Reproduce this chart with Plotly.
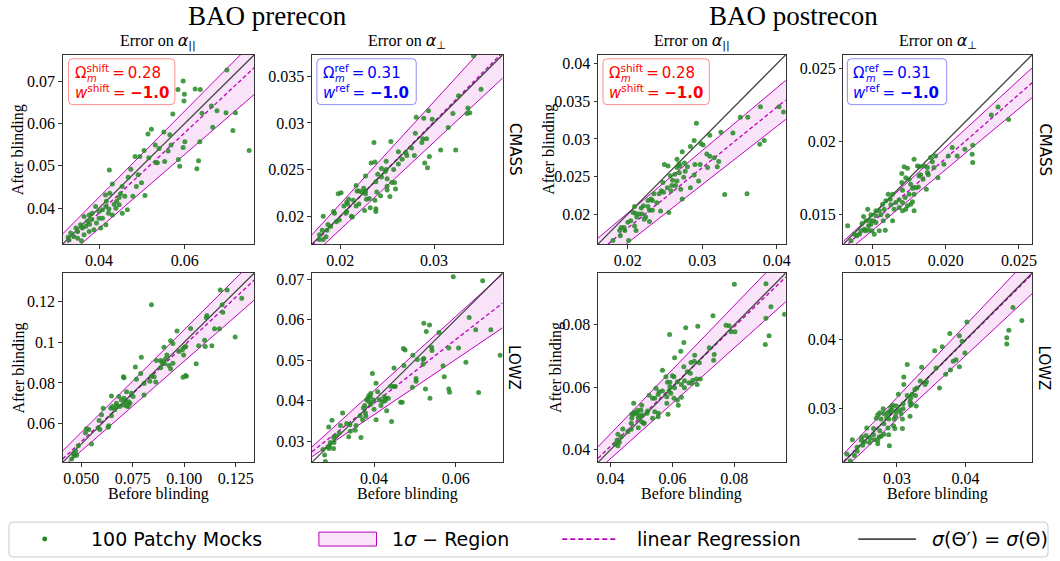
import plotly.graph_objects as go

W, H = 1060, 561

# ---------------------------------------------------------------------------
# Errors on alpha before / after blinding for 100 Patchy mocks (before, after)
# ---------------------------------------------------------------------------
pre_cmass_par = [
    (0.0698, 0.0726), (0.0596, 0.0700), (0.0599, 0.0669), (0.0598, 0.0653), (0.0584, 0.0680),
    (0.0624, 0.0681), (0.0636, 0.0680), (0.0662, 0.0641), (0.0675, 0.0630), (0.0640, 0.0624),
    (0.0572, 0.0622), (0.0696, 0.0625), (0.0718, 0.0625), (0.0712, 0.0583), (0.0665, 0.0591),
    (0.0750, 0.0536), (0.0522, 0.0586), (0.0514, 0.0575), (0.0551, 0.0580), (0.0565, 0.0573),
    (0.0568, 0.0549), (0.0531, 0.0549), (0.0561, 0.0535), (0.0516, 0.0519), (0.0536, 0.0507),
    (0.0553, 0.0510), (0.0532, 0.0508), (0.0588, 0.0499), (0.0596, 0.0543), (0.0585, 0.0515),
    (0.0632, 0.0512), (0.0628, 0.0493), (0.0635, 0.0557), (0.0484, 0.0522), (0.0505, 0.0536),
    (0.0424, 0.0490), (0.0474, 0.0492), (0.0491, 0.0479), (0.0499, 0.0460), (0.0507, 0.0430),
    (0.0468, 0.0473), (0.0479, 0.0428), (0.0431, 0.0457), (0.0450, 0.0434), (0.0460, 0.0428),
    (0.0441, 0.0416), (0.0425, 0.0435), (0.0415, 0.0431), (0.0447, 0.0408), (0.0439, 0.0400),
    (0.0423, 0.0398), (0.0408, 0.0396), (0.0416, 0.0404), (0.0392, 0.0404), (0.0400, 0.0392),
    (0.0384, 0.0388), (0.0377, 0.0384), (0.0365, 0.0380), (0.0373, 0.0369), (0.0357, 0.0361),
    (0.0361, 0.0353), (0.0350, 0.0345), (0.0341, 0.0333), (0.0330, 0.0325), (0.0328, 0.0331),
    (0.0350, 0.0329), (0.0377, 0.0345), (0.0388, 0.0349), (0.0404, 0.0353), (0.0416, 0.0361),
    (0.0369, 0.0357), (0.0359, 0.0323), (0.0400, 0.0376), (0.0431, 0.0384), (0.0454, 0.0388),
    (0.0466, 0.0396), (0.0383, 0.0373), (0.0346, 0.0353), (0.0408, 0.0376), (0.0422, 0.0388),
    (0.0394, 0.0365), (0.0378, 0.0362), (0.0365, 0.0337), (0.0334, 0.0341), (0.0435, 0.0409),
    (0.0417, 0.0416), (0.0447, 0.0425), (0.0454, 0.0451), (0.0487, 0.0451), (0.0495, 0.0522),
    (0.0540, 0.0541), (0.0600, 0.0557),
]

pre_cmass_perp = [
    (0.0342, 0.0372), (0.0350, 0.0336), (0.0336, 0.0316), (0.0326, 0.0329), (0.0320, 0.0310),
    (0.0315, 0.0295), (0.0323, 0.0271), (0.0307, 0.0271), (0.0335, 0.0310), (0.0338, 0.0311),
    (0.0294, 0.0313), (0.0298, 0.0304), (0.0289, 0.0305), (0.0281, 0.0306), (0.0280, 0.0289),
    (0.0288, 0.0283), (0.0292, 0.0283), (0.0287, 0.0279), (0.0295, 0.0264), (0.0290, 0.0257),
    (0.0293, 0.0252), (0.0279, 0.0265), (0.0276, 0.0273), (0.0270, 0.0268), (0.0271, 0.0265),
    (0.0266, 0.0261), (0.0262, 0.0269), (0.0254, 0.0280), (0.0262, 0.0256), (0.0257, 0.0250),
    (0.0249, 0.0259), (0.0249, 0.0250), (0.0248, 0.0248), (0.0244, 0.0251), (0.0236, 0.0279),
    (0.0237, 0.0258), (0.0233, 0.0257), (0.0240, 0.0245), (0.0244, 0.0242), (0.0250, 0.0240),
    (0.0255, 0.0236), (0.0258, 0.0236), (0.0250, 0.0232), (0.0250, 0.0228), (0.0253, 0.0221),
    (0.0259, 0.0229), (0.0238, 0.0237), (0.0239, 0.0226), (0.0243, 0.0222), (0.0237, 0.0217),
    (0.0231, 0.0219), (0.0227, 0.0224), (0.0227, 0.0227), (0.0223, 0.0226), (0.0225, 0.0230),
    (0.0227, 0.0243), (0.0217, 0.0233), (0.0218, 0.0227), (0.0220, 0.0227), (0.0228, 0.0218),
    (0.0232, 0.0209), (0.0238, 0.0205), (0.0238, 0.0208), (0.0226, 0.0206), (0.0220, 0.0213),
    (0.0214, 0.0217), (0.0217, 0.0211), (0.0209, 0.0218), (0.0208, 0.0213), (0.0207, 0.0215),
    (0.0212, 0.0200), (0.0213, 0.0199), (0.0207, 0.0205), (0.0206, 0.0203), (0.0201, 0.0225),
    (0.0198, 0.0224), (0.0204, 0.0211), (0.0194, 0.0203), (0.0193, 0.0205), (0.0196, 0.0194),
    (0.0199, 0.0196), (0.0190, 0.0189), (0.0187, 0.0191), (0.0186, 0.0185), (0.0182, 0.0200),
    (0.0181, 0.0185), (0.0182, 0.0175), (0.0178, 0.0180), (0.0178, 0.0175), (0.0185, 0.0178),
]

post_cmass_par = [
    (0.0409, 0.0336), (0.0403, 0.0343), (0.0378, 0.0343), (0.0361, 0.0329), (0.0351, 0.0329),
    (0.0377, 0.0293), (0.0383, 0.0298), (0.0341, 0.0308), (0.0325, 0.0309), (0.0310, 0.0305),
    (0.0292, 0.0321), (0.0298, 0.0294), (0.0301, 0.0292), (0.0284, 0.0290), (0.0273, 0.0283),
    (0.0306, 0.0280), (0.0310, 0.0277), (0.0316, 0.0275), (0.0322, 0.0270), (0.0320, 0.0263),
    (0.0307, 0.0262), (0.0297, 0.0266), (0.0290, 0.0266), (0.0295, 0.0244), (0.0284, 0.0235),
    (0.0273, 0.0220), (0.0330, 0.0226), (0.0360, 0.0227), (0.0276, 0.0268), (0.0280, 0.0263),
    (0.0277, 0.0257), (0.0270, 0.0264), (0.0269, 0.0255), (0.0266, 0.0262), (0.0275, 0.0249),
    (0.0289, 0.0252), (0.0254, 0.0264), (0.0257, 0.0251), (0.0263, 0.0253), (0.0266, 0.0244),
    (0.0260, 0.0245), (0.0259, 0.0238), (0.0264, 0.0238), (0.0271, 0.0233), (0.0253, 0.0235),
    (0.0258, 0.0231), (0.0247, 0.0242), (0.0245, 0.0231), (0.0248, 0.0229), (0.0242, 0.0227),
    (0.0235, 0.0227), (0.0231, 0.0220), (0.0233, 0.0218), (0.0227, 0.0218), (0.0239, 0.0215),
    (0.0244, 0.0204), (0.0255, 0.0202), (0.0227, 0.0210), (0.0221, 0.0211), (0.0218, 0.0208),
    (0.0229, 0.0205), (0.0233, 0.0205), (0.0219, 0.0200), (0.0209, 0.0210), (0.0215, 0.0200),
    (0.0210, 0.0201), (0.0207, 0.0202), (0.0222, 0.0193), (0.0224, 0.0196), (0.0229, 0.0190),
    (0.0212, 0.0196), (0.0204, 0.0191), (0.0200, 0.0189), (0.0195, 0.0182), (0.0191, 0.0182),
    (0.0189, 0.0178), (0.0196, 0.0178), (0.0190, 0.0171), (0.0211, 0.0178), (0.0209, 0.0184),
    (0.0180, 0.0165), (0.0201, 0.0165), (0.0249, 0.0266), (0.0266, 0.0273), (0.0269, 0.0267),
    (0.0289, 0.0298),
]

post_cmass_perp = [
    (0.02429, 0.02150), (0.02357, 0.02234), (0.02311, 0.02180), (0.02184, 0.01973), (0.02180, 0.01912),
    (0.02184, 0.01856), (0.02130, 0.01946), (0.02078, 0.01901), (0.02044, 0.01958), (0.02017, 0.01901),
    (0.01987, 0.01844), (0.01930, 0.01901), (0.01946, 0.01753), (0.01919, 0.01822), (0.01896, 0.01890),
    (0.01908, 0.01862), (0.01874, 0.01822), (0.01851, 0.01833), (0.01806, 0.01833), (0.01783, 0.01878),
    (0.01822, 0.01829), (0.01874, 0.01788), (0.01880, 0.01772), (0.01828, 0.01772), (0.01817, 0.01765),
    (0.01844, 0.01742), (0.01867, 0.01674), (0.01749, 0.01742), (0.01760, 0.01708), (0.01772, 0.01681),
    (0.01794, 0.01685), (0.01812, 0.01690), (0.01715, 0.01828), (0.01726, 0.01753), (0.01738, 0.01817),
    (0.01699, 0.01781), (0.01699, 0.01720), (0.01704, 0.01667), (0.01749, 0.01640), (0.01783, 0.01640),
    (0.01722, 0.01617), (0.01704, 0.01583), (0.01681, 0.01602), (0.01658, 0.01583), (0.01624, 0.01568),
    (0.01647, 0.01538), (0.01681, 0.01549), (0.01726, 0.01538), (0.01783, 0.01527), (0.01772, 0.01588),
    (0.01760, 0.01572), (0.01738, 0.01561), (0.01704, 0.01527), (0.01606, 0.01640), (0.01620, 0.01606),
    (0.01590, 0.01595), (0.01568, 0.01572), (0.01579, 0.01538), (0.01545, 0.01527), (0.01522, 0.01527),
    (0.01522, 0.01493), (0.01556, 0.01500), (0.01572, 0.01459), (0.01636, 0.01459), (0.01602, 0.01493),
    (0.01500, 0.01459), (0.01488, 0.01436), (0.01477, 0.01463), (0.01454, 0.01459), (0.01472, 0.01425),
    (0.01443, 0.01402), (0.01450, 0.01391), (0.01472, 0.01395), (0.01495, 0.01391), (0.01511, 0.01368),
    (0.01586, 0.01395), (0.01545, 0.01391), (0.01420, 0.01391), (0.01409, 0.01368), (0.01375, 0.01368),
    (0.01391, 0.01357), (0.01352, 0.01323), (0.01329, 0.01425), (0.01427, 0.01441), (0.01466, 0.01538),
    (0.01488, 0.01500), (0.01522, 0.01447), (0.01438, 0.01488), (0.01636, 0.01640),
]

pre_lowz_par = [
    (0.1208, 0.1257), (0.1175, 0.1257), (0.1110, 0.1131), (0.1107, 0.1120), (0.1187, 0.1147),
    (0.1279, 0.1216), (0.1184, 0.1184), (0.1171, 0.1066), (0.1147, 0.1066), (0.1134, 0.0983),
    (0.1102, 0.0979), (0.1099, 0.1010), (0.1070, 0.0983), (0.1247, 0.1026), (0.1058, 0.0894),
    (0.1031, 0.1068), (0.0965, 0.1055), (0.0934, 0.1007), (0.0945, 0.0994), (0.0902, 0.0975),
    (0.1002, 0.0975), (0.1007, 0.0979), (0.0991, 0.0963), (0.0975, 0.0954), (0.0997, 0.0937),
    (0.0916, 0.0937), (0.0908, 0.0918), (0.0945, 0.0897), (0.0926, 0.0886), (0.0886, 0.0875),
    (0.0905, 0.0894), (0.0865, 0.0910), (0.0892, 0.0902), (0.0934, 0.0870), (0.0994, 0.0828),
    (0.1010, 0.0833), (0.1007, 0.0837), (0.0841, 0.0833), (0.0862, 0.0805), (0.0854, 0.0830),
    (0.0833, 0.0808), (0.0792, 0.0926), (0.0763, 0.0878), (0.0789, 0.0846), (0.0768, 0.0818),
    (0.0841, 0.1184), (0.0708, 0.0825), (0.0705, 0.0830), (0.0805, 0.0797), (0.0805, 0.0741),
    (0.0744, 0.0749), (0.0720, 0.0757), (0.0683, 0.0733), (0.0647, 0.0736), (0.0671, 0.0700),
    (0.0695, 0.0716), (0.0708, 0.0725), (0.0715, 0.0708), (0.0704, 0.0692), (0.0720, 0.0687),
    (0.0731, 0.0708), (0.0737, 0.0700), (0.0728, 0.0684), (0.0687, 0.0684), (0.0671, 0.0687),
    (0.0652, 0.0684), (0.0644, 0.0676), (0.0607, 0.0676), (0.0599, 0.0644), (0.0587, 0.0616),
    (0.0583, 0.0579), (0.0591, 0.0571), (0.0634, 0.0590), (0.0631, 0.0583), (0.0550, 0.0500),
    (0.0526, 0.0575), (0.0537, 0.0571), (0.0521, 0.0555), (0.0486, 0.0491), (0.0473, 0.0466),
    (0.0462, 0.0454), (0.0466, 0.0442), (0.0478, 0.0445), (0.0454, 0.0426), (0.0647, 0.0639),
    (0.0663, 0.0668), (0.0752, 0.0733), (0.0886, 0.0910),
]

pre_lowz_perp = [
    (0.0594, 0.0706), (0.0666, 0.0696), (0.0633, 0.0605), (0.0649, 0.0575), (0.0686, 0.0575),
    (0.0709, 0.0512), (0.0607, 0.0530), (0.0625, 0.0495), (0.0656, 0.0420), (0.0583, 0.0530),
    (0.0569, 0.0486), (0.0572, 0.0459), (0.0583, 0.0429), (0.0585, 0.0421), (0.0559, 0.0568),
    (0.0522, 0.0591), (0.0536, 0.0587), (0.0528, 0.0571), (0.0541, 0.0532), (0.0542, 0.0524),
    (0.0520, 0.0490), (0.0537, 0.0406), (0.0526, 0.0429), (0.0503, 0.0455), (0.0503, 0.0448),
    (0.0494, 0.0433), (0.0495, 0.0512), (0.0506, 0.0502), (0.0520, 0.0502), (0.0522, 0.0504),
    (0.0472, 0.0529), (0.0476, 0.0525), (0.0473, 0.0487), (0.0469, 0.0396), (0.0465, 0.0396),
    (0.0449, 0.0481), (0.0452, 0.0435), (0.0448, 0.0435), (0.0443, 0.0349), (0.0431, 0.0375),
    (0.0429, 0.0405), (0.0435, 0.0406), (0.0425, 0.0410), (0.0427, 0.0400), (0.0417, 0.0388),
    (0.0421, 0.0398), (0.0413, 0.0402), (0.0405, 0.0443), (0.0405, 0.0353), (0.0396, 0.0467),
    (0.0399, 0.0402), (0.0400, 0.0379), (0.0392, 0.0392), (0.0391, 0.0409), (0.0384, 0.0404),
    (0.0387, 0.0412), (0.0382, 0.0402), (0.0388, 0.0398), (0.0377, 0.0388), (0.0374, 0.0382),
    (0.0379, 0.0370), (0.0380, 0.0362), (0.0366, 0.0363), (0.0372, 0.0353), (0.0368, 0.0309),
    (0.0356, 0.0339), (0.0354, 0.0327), (0.0341, 0.0341), (0.0342, 0.0325), (0.0338, 0.0311),
    (0.0333, 0.0344), (0.0323, 0.0370), (0.0318, 0.0339), (0.0315, 0.0321), (0.0306, 0.0313),
    (0.0301, 0.0309), (0.0297, 0.0352), (0.0289, 0.0335), (0.0302, 0.0297), (0.0301, 0.0282),
    (0.0293, 0.0297), (0.0291, 0.0289), (0.0290, 0.0282), (0.0287, 0.0286), (0.0279, 0.0266),
    (0.0281, 0.0250), (0.0275, 0.0280), (0.0392, 0.0418), (0.0409, 0.0422), (0.0441, 0.0436),
]

post_lowz_par = [
    (0.0800, 0.0930), (0.0902, 0.0932), (0.0731, 0.0829), (0.0773, 0.0799), (0.0783, 0.0797),
    (0.0802, 0.0778), (0.0789, 0.0778), (0.0902, 0.0821), (0.0918, 0.0858), (0.0962, 0.0834),
    (0.0912, 0.0765), (0.0900, 0.0737), (0.0682, 0.0796), (0.0643, 0.0791), (0.0591, 0.0769),
    (0.0637, 0.0744), (0.0627, 0.0716), (0.0607, 0.0695), (0.0719, 0.0727), (0.0735, 0.0705),
    (0.0733, 0.0687), (0.0672, 0.0703), (0.0671, 0.0684), (0.0687, 0.0679), (0.0660, 0.0680),
    (0.0637, 0.0666), (0.0648, 0.0650), (0.0658, 0.0645), (0.0605, 0.0634), (0.0568, 0.0655),
    (0.0579, 0.0634), (0.0600, 0.0637), (0.0584, 0.0616), (0.0592, 0.0616), (0.0616, 0.0618),
    (0.0629, 0.0609), (0.0639, 0.0599), (0.0653, 0.0615), (0.0666, 0.0623), (0.0678, 0.0627),
    (0.0690, 0.0627), (0.0680, 0.0609), (0.0662, 0.0613), (0.0639, 0.0621), (0.0592, 0.0602),
    (0.0589, 0.0588), (0.0607, 0.0599), (0.0595, 0.0581), (0.0605, 0.0565), (0.0616, 0.0559),
    (0.0619, 0.0543), (0.0629, 0.0568), (0.0568, 0.0588), (0.0557, 0.0586), (0.0547, 0.0597),
    (0.0554, 0.0577), (0.0543, 0.0565), (0.0536, 0.0565), (0.0525, 0.0575), (0.0582, 0.0570),
    (0.0582, 0.0549), (0.0586, 0.0514), (0.0555, 0.0517), (0.0554, 0.0506), (0.0536, 0.0501),
    (0.0543, 0.0522), (0.0520, 0.0524), (0.0518, 0.0517), (0.0504, 0.0511), (0.0501, 0.0543),
    (0.0499, 0.0527), (0.0488, 0.0527), (0.0477, 0.0520), (0.0485, 0.0517), (0.0493, 0.0511),
    (0.0490, 0.0503), (0.0501, 0.0490), (0.0507, 0.0485), (0.0509, 0.0485), (0.0490, 0.0471),
    (0.0475, 0.0514), (0.0469, 0.0514), (0.0469, 0.0501), (0.0467, 0.0485), (0.0456, 0.0458),
    (0.0467, 0.0466), (0.0440, 0.0467), (0.0424, 0.0450), (0.0435, 0.0442), (0.0421, 0.0431),
    (0.0429, 0.0424), (0.0415, 0.0418), (0.0424, 0.0413), (0.0475, 0.0549),
]

post_lowz_perp = [
    (0.0469, 0.0447), (0.0482, 0.0428), (0.0463, 0.0414), (0.0460, 0.0403), (0.0460, 0.0394),
    (0.0402, 0.0426), (0.0377, 0.0409), (0.0391, 0.0406), (0.0395, 0.0398), (0.0399, 0.0381),
    (0.0386, 0.0371), (0.0391, 0.0361), (0.0382, 0.0369), (0.0378, 0.0356), (0.0366, 0.0390),
    (0.0355, 0.0384), (0.0357, 0.0359), (0.0371, 0.0350), (0.0362, 0.0330), (0.0336, 0.0360),
    (0.0343, 0.0339), (0.0341, 0.0335), (0.0334, 0.0340), (0.0329, 0.0330), (0.0326, 0.0328),
    (0.0315, 0.0364), (0.0310, 0.0346), (0.0310, 0.0335), (0.0322, 0.0321), (0.0327, 0.0319),
    (0.0320, 0.0315), (0.0319, 0.0310), (0.0321, 0.0307), (0.0320, 0.0305), (0.0328, 0.0304),
    (0.0315, 0.0319), (0.0309, 0.0307), (0.0309, 0.0300), (0.0302, 0.0321), (0.0299, 0.0304),
    (0.0299, 0.0295), (0.0304, 0.0298), (0.0306, 0.0293), (0.0308, 0.0285), (0.0319, 0.0289),
    (0.0298, 0.0289), (0.0296, 0.0285), (0.0294, 0.0305), (0.0291, 0.0302), (0.0293, 0.0298),
    (0.0289, 0.0296), (0.0287, 0.0294), (0.0285, 0.0288), (0.0280, 0.0300), (0.0281, 0.0293),
    (0.0275, 0.0294), (0.0272, 0.0291), (0.0270, 0.0286), (0.0277, 0.0285), (0.0288, 0.0285),
    (0.0295, 0.0275), (0.0297, 0.0271), (0.0308, 0.0271), (0.0288, 0.0262), (0.0289, 0.0246),
    (0.0287, 0.0272), (0.0281, 0.0263), (0.0275, 0.0268), (0.0277, 0.0260), (0.0274, 0.0259),
    (0.0272, 0.0249), (0.0272, 0.0254), (0.0266, 0.0271), (0.0266, 0.0262), (0.0267, 0.0255),
    (0.0261, 0.0257), (0.0256, 0.0272), (0.0255, 0.0261), (0.0253, 0.0252), (0.0250, 0.0247),
    (0.0249, 0.0259), (0.0248, 0.0254), (0.0242, 0.0244), (0.0242, 0.0238), (0.0235, 0.0255),
    (0.0238, 0.0232), (0.0227, 0.0234), (0.0232, 0.0224), (0.0260, 0.0251), (0.0281, 0.0278),
]

# panel order: prerecon CMASS (par, perp), postrecon CMASS (par, perp),
#              prerecon LOWZ (par, perp),  postrecon LOWZ (par, perp)
mock_sets = [pre_cmass_par, pre_cmass_perp, post_cmass_par, post_cmass_perp,
             pre_lowz_par, pre_lowz_perp, post_lowz_par, post_lowz_perp]

# linear regression (slope, intercept) and its 1-sigma envelope
regression = [(0.9475, 0.00098), (1.0194, -0.00046), (0.804, 0.00207), (0.8725, 0.0014),
              (0.9465, 0.0038), (0.786, 0.00791), (0.958, 0.0028), (0.99, 0.00032)]
band_upper = [(1.02, 0.00177), (1.0997, -0.000695), (0.8333, 0.00347), (0.916, 0.00129),
              (1.01, 0.00519), (0.914, 0.00593), (1.028, 0.00399), (1.052, 0.00005)]
band_lower = [(0.875, 0.00019), (0.939, -0.00022), (0.775, 0.00068), (0.829, 0.00151),
              (0.883, 0.00241), (0.681, 0.00931), (0.888, 0.00163), (0.928, 0.00058)]

# common axis limits (same on x and y) per panel
axis_limits = [(0.0315, 0.0762), (0.0170, 0.0373), (0.0160, 0.0412), (0.0130, 0.0259),
               (0.0410, 0.1340), (0.0248, 0.0715), (0.0360, 0.0966), (0.0222, 0.0497)]

x_tick_labels = [["0.04", "0.06"], ["0.02", "0.03"], ["0.02", "0.03", "0.04"],
                 ["0.015", "0.020", "0.025"], ["0.050", "0.075", "0.100", "0.125"],
                 ["0.04", "0.06"], ["0.04", "0.06", "0.08"], ["0.03", "0.04"]]
y_tick_labels = [["0.04", "0.05", "0.06", "0.07"], ["0.02", "0.025", "0.03", "0.035"],
                 ["0.02", "0.025", "0.03", "0.035", "0.04"], ["0.015", "0.02", "0.025"],
                 ["0.06", "0.08", "0.1", "0.12"], ["0.03", "0.04", "0.05", "0.06", "0.07"],
                 ["0.04", "0.06", "0.08"], ["0.03", "0.04"]]

group_titles = ["BAO prerecon", "BAO postrecon"]
MATH = '<span style="font-family:DejaVu Sans">'
column_titles = [f"Error on {MATH}<i>α</i><sub>||</sub></span>",
                 f"Error on {MATH}<i>α</i><sub>⊥</sub></span>"]
row_labels = ["CMASS", "LOWZ"]
cosmo_boxes = [("shift", "0.28", "−1.0", "red"), ("ref", "0.31", "−1.0", "blue")]
legend_labels = ["100 Patchy Mocks", "1<i>σ</i> − Region", "linear Regression",
                 "<i>σ</i>(Θ′) = <i>σ</i>(Θ)"]

# ---------------------------------------------------------------------------
# layout geometry (pixels)
# ---------------------------------------------------------------------------
COLS = [(61, 254), (312, 504), (600, 789), (847, 1037)]
ROWS = [(53, 243), (272, 462)]

GREEN = "rgb(38,138,38)"
MAGENTA = "#bf00bf"
BAND_FILL = "rgba(191,0,191,0.11)"
IDENT = "rgba(40,40,40,0.85)"
SERIF = "Liberation Serif"
SANS = "DejaVu Sans"


def px(x):
    return x / W


def py(y):
    return 1 - y / H


def rounded_rect(x0, y0, x1, y1, r):
    rx, ry = r / W, r / H
    X0, X1, Y0, Y1 = px(x0), px(x1), py(y0), py(y1)
    return (f"M {X0+rx},{Y0} L {X1-rx},{Y0} Q {X1},{Y0} {X1},{Y0-ry} "
            f"L {X1},{Y1+ry} Q {X1},{Y1} {X1-rx},{Y1} L {X0+rx},{Y1} "
            f"Q {X0},{Y1} {X0},{Y1+ry} L {X0},{Y0-ry} Q {X0},{Y0} {X0+rx},{Y0} Z")


fig = go.Figure()
layout = {}
annotations = []
shapes = []

for i, pts in enumerate(mock_sets):
    row, col = divmod(i, 4)
    n = i + 1
    xa = "x" if n == 1 else f"x{n}"
    ya = "y" if n == 1 else f"y{n}"
    lo, hi = axis_limits[i]
    xs = [p[0] for p in pts]
    ys = [p[1] for p in pts]

    su, iu = band_upper[i]
    sl, il = band_lower[i]
    sr, ir = regression[i]

    # shaded 1-sigma region
    fig.add_trace(go.Scatter(
        x=[lo, hi, hi, lo], y=[sl * lo + il, sl * hi + il, su * hi + iu, su * lo + iu],
        fill="toself", fillcolor=BAND_FILL, mode="lines", line=dict(width=0),
        xaxis=xa, yaxis=ya, showlegend=False, hoverinfo="skip"))
    for s, c in ((su, iu), (sl, il)):
        fig.add_trace(go.Scatter(
            x=[lo, hi], y=[s * lo + c, s * hi + c], mode="lines",
            line=dict(color=MAGENTA, width=1), xaxis=xa, yaxis=ya,
            showlegend=False, hoverinfo="skip"))
    # regression line
    fig.add_trace(go.Scatter(
        x=[lo, hi], y=[sr * lo + ir, sr * hi + ir], mode="lines",
        line=dict(color=MAGENTA, width=1.3, dash="4px,2.5px"), xaxis=xa, yaxis=ya,
        showlegend=False, hoverinfo="skip"))
    # sigma' = sigma
    fig.add_trace(go.Scatter(
        x=[lo, hi], y=[lo, hi], mode="lines", line=dict(color=IDENT, width=1.3),
        xaxis=xa, yaxis=ya, showlegend=False, hoverinfo="skip"))
    # mocks
    fig.add_trace(go.Scatter(
        x=xs, y=ys, mode="markers", marker=dict(color=GREEN, size=5, opacity=0.85),
        xaxis=xa, yaxis=ya, showlegend=False))

    x0, x1 = COLS[col]
    y0, y1 = ROWS[row]
    common = dict(range=[lo, hi], showline=True, mirror=True, linecolor="#333",
                  linewidth=1, ticks="outside", ticklen=3.5, tickwidth=1, tickcolor="#333",
                  tickfont=dict(family=SERIF, size=16, color="black"),
                  showgrid=False, zeroline=False, fixedrange=True)
    layout["xaxis" if n == 1 else f"xaxis{n}"] = dict(
        common, domain=[px(x0), px(x1)], anchor=ya, ticklabelstandoff=-2,
        tickvals=[float(t) for t in x_tick_labels[i]], ticktext=x_tick_labels[i])
    layout["yaxis" if n == 1 else f"yaxis{n}"] = dict(
        common, domain=[py(y1), py(y0)], anchor=xa,
        tickvals=[float(t) for t in y_tick_labels[i]], ticktext=y_tick_labels[i])

    cx = (x0 + x1) / 2
    cy = (y0 + y1) / 2
    # column title on top row
    if row == 0:
        annotations.append(dict(x=px(cx), y=py(40), xref="paper", yref="paper",
                                text=column_titles[col % 2], showarrow=False,
                                xanchor="center", yanchor="middle",
                                font=dict(family=SERIF, size=16, color="black")))
        # cosmology box
        key, om, wv, colr = cosmo_boxes[col % 2]
        bx0 = x0 + (6 if col % 2 == 0 else 5) - (0 if col < 2 else 1)
        bw = 107 if col % 2 == 0 else 100
        shapes.append(dict(type="path", xref="paper", yref="paper",
                           path=rounded_rect(bx0, y0 + 4, bx0 + bw, y0 + 50, 4),
                           line=dict(color="rgba(255,0,0,0.45)" if colr == "red"
                                     else "rgba(0,0,255,0.45)", width=1),
                           fillcolor="rgba(255,255,255,0.6)"))
        tx = bx0 + 4
        annotations.append(dict(x=px(tx), y=py(y0 + 17.5), xref="paper", yref="paper",
                                text=f"Ω<sup>{key}</sup>\u2009=\u2009{om}", showarrow=False,
                                xanchor="left", yanchor="middle",
                                font=dict(family=SANS, size=15, color=colr)))
        annotations.append(dict(x=px(tx + 12.5), y=py(y0 + 23.5), xref="paper", yref="paper",
                                text="<i>m</i>", showarrow=False,
                                xanchor="left", yanchor="middle",
                                font=dict(family=SANS, size=10, color=colr)))
        annotations.append(dict(x=px(tx), y=py(y0 + 37.5), xref="paper", yref="paper",
                                text=f"<i>w</i><sup>{key}</sup>\u2009= <b>{wv}</b>",
                                showarrow=False, xanchor="left", yanchor="middle",
                                font=dict(family=SANS, size=15, color=colr)))
    else:
        annotations.append(dict(x=px(cx), y=py(494), xref="paper", yref="paper",
                                text="Before blinding", showarrow=False,
                                xanchor="center", yanchor="middle",
                                font=dict(family=SERIF, size=16, color="black")))
    # y label on the left panel of each group
    if col % 2 == 0:
        lx = 17 if col == 0 else (551 if row == 0 else 557)
        annotations.append(dict(x=px(lx), y=py(cy), xref="paper", yref="paper",
                                text="After blinding", showarrow=False, textangle=-90,
                                xanchor="center", yanchor="middle",
                                font=dict(family=SERIF, size=16, color="black")))
    else:
        annotations.append(dict(x=px(x1 + 12), y=py(cy), xref="paper", yref="paper",
                                text=row_labels[row], showarrow=False, textangle=90,
                                xanchor="center", yanchor="middle",
                                font=dict(family=SANS, size=15, color="black")))

# group titles
for g, gx in zip(group_titles, (267, 797)):
    annotations.append(dict(x=px(gx), y=py(14), xref="paper", yref="paper", text=g,
                            showarrow=False, xanchor="center", yanchor="middle",
                            font=dict(family=SERIF, size=27, color="black")))

# legend frame and entries
shapes.append(dict(type="path", xref="paper", yref="paper",
                   path=rounded_rect(7, 522, 1053, 557, 4),
                   line=dict(color="#cccccc", width=1), fillcolor="white"))
LY = 539
shapes.append(dict(type="circle", xref="paper", yref="paper",
                   x0=px(40.5), x1=px(45.5), y0=py(LY + 2.5), y1=py(LY - 2.5),
                   fillcolor=GREEN, line=dict(width=0)))
shapes.append(dict(type="rect", xref="paper", yref="paper",
                   x0=px(319), x1=px(377), y0=py(546), y1=py(532),
                   fillcolor=BAND_FILL, line=dict(color=MAGENTA, width=1)))
shapes.append(dict(type="line", xref="paper", yref="paper",
                   x0=px(564), x1=px(620), y0=py(LY), y1=py(LY),
                   line=dict(color=MAGENTA, width=1.6, dash="5px,3px")))
shapes.append(dict(type="line", xref="paper", yref="paper",
                   x0=px(862), x1=px(920), y0=py(LY), y1=py(LY),
                   line=dict(color=IDENT, width=1.6)))
for lab, lx in zip(legend_labels, (88, 391, 637, 934)):
    annotations.append(dict(x=px(lx), y=py(LY), xref="paper", yref="paper", text=lab,
                            showarrow=False, xanchor="left", yanchor="middle",
                            font=dict(family=SANS, size=19, color="black")))

fig.update_layout(
    width=W, height=H, margin=dict(l=0, r=0, t=0, b=0),
    paper_bgcolor="white", plot_bgcolor="white", showlegend=False,
    annotations=annotations, shapes=shapes, **layout)

fig.write_html("out.html", config={"displayModeBar": False})
